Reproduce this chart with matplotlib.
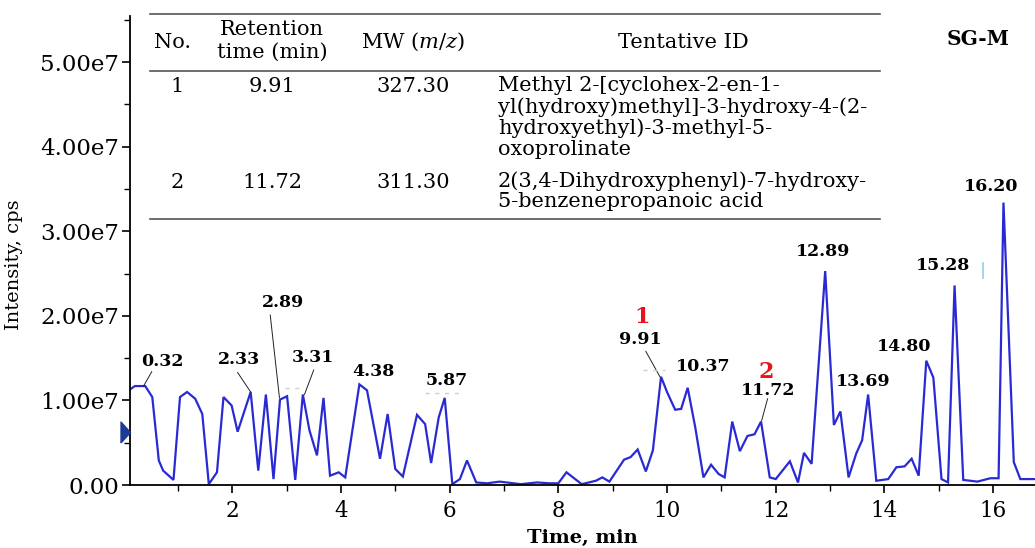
import matplotlib
matplotlib.use('Agg')
import matplotlib.pyplot as plt
from matplotlib.lines import Line2D
from matplotlib.ticker import MultipleLocator, FuncFormatter

# ---------------- data ----------------
time_min = [0.12, 0.21, 0.40, 0.53, 0.65, 0.73, 0.92, 1.04, 1.17, 1.32, 1.45, 1.57, 1.72,
            1.84, 1.99, 2.10, 2.34, 2.48, 2.62, 2.76, 2.88, 3.01, 3.16, 3.30, 3.42, 3.56,
            3.68, 3.80, 3.96, 4.08, 4.34, 4.48, 4.72, 4.86, 5.00, 5.14, 5.40, 5.55, 5.66,
            5.80, 5.91, 6.05, 6.19, 6.32, 6.49, 6.69, 6.92, 7.05, 7.31, 7.61, 7.84, 8.00,
            8.15, 8.43, 8.69, 8.81, 8.94, 9.21, 9.33, 9.46, 9.61, 9.74, 9.89, 10.00, 10.15,
            10.26, 10.38, 10.52, 10.67, 10.81, 10.95, 11.06, 11.20, 11.34, 11.48, 11.61,
            11.73, 11.89, 12.00, 12.26, 12.41, 12.52, 12.66, 12.91, 13.07, 13.19, 13.34,
            13.48, 13.59, 13.70, 13.85, 14.07, 14.22, 14.37, 14.50, 14.63, 14.77, 14.90,
            15.05, 15.17, 15.29, 15.45, 15.71, 15.95, 16.10, 16.19, 16.38, 16.50, 16.77]
intensity_e7 = [1.13, 1.17, 1.17, 1.04, 0.29, 0.17, 0.06, 1.04, 1.10, 1.02, 0.84, 0.01, 0.15,
                1.04, 0.94, 0.63, 1.10, 0.17, 1.07, 0.07, 1.01, 1.05, 0.06, 1.07, 0.65, 0.35,
                1.03, 0.11, 0.15, 0.09, 1.19, 1.12, 0.31, 0.84, 0.19, 0.10, 0.83, 0.72, 0.26,
                0.80, 1.03, 0.01, 0.07, 0.29, 0.03, 0.02, 0.04, 0.03, 0.01, 0.03, 0.02, 0.02,
                0.15, 0.01, 0.05, 0.09, 0.04, 0.30, 0.33, 0.42, 0.16, 0.41, 1.28, 1.10, 0.89,
                0.90, 1.15, 0.68, 0.09, 0.24, 0.13, 0.09, 0.75, 0.40, 0.58, 0.60,
                0.75, 0.09, 0.07, 0.28, 0.03, 0.38, 0.25, 2.53, 0.71, 0.87, 0.09,
                0.37, 0.53, 1.07, 0.05, 0.07, 0.21, 0.22, 0.31, 0.11, 1.47, 1.27,
                0.07, 0.03, 2.36, 0.06, 0.04, 0.08, 0.08, 3.34, 0.27, 0.07, 0.07]
intensity = [v * 1e7 for v in intensity_e7]

peak_labels = ['0.32', '2.33', '2.89', '3.31', '4.38', '5.87', '9.91', '10.37',
               '11.72', '12.89', '13.69', '14.80', '15.28', '16.20']
compound_labels = ['1', '2']

table_header = ['No.', 'Retention\ntime (min)', 'MW ($\\it{m/z}$)', 'Tentative ID']
table_no = ['1', '2']
table_rt = ['9.91', '11.72']
table_mw = ['327.30', '311.30']
table_id = ['Methyl 2-[cyclohex-2-en-1-\nyl(hydroxy)methyl]-3-hydroxy-4-(2-\nhydroxyethyl)-3-methyl-5-\noxoprolinate',
            '2(3,4-Dihydroxyphenyl)-7-hydroxy-\n5-benzenepropanoic acid']
sample_name = 'SG-M'

y_ticks_e7 = [0, 1, 2, 3, 4, 5]
x_ticks = [2, 4, 6, 8, 10, 12, 14, 16]

# ---------------- layout ----------------
W, H = 1035, 548
def fx(px):
    return px / W
def fy(py):
    return 1 - py / H

# label text positions (data coords: time, intensity in 1e7)
label_pos = {'0.32': (0.71, 1.46), '2.33': (2.13, 1.48), '2.89': (2.94, 2.16),
             '3.31': (3.48, 1.51), '4.38': (4.59, 1.34), '5.87': (5.95, 1.23),
             '9.91': (9.51, 1.72), '10.37': (10.67, 1.40), '11.72': (11.85, 1.12),
             '12.89': (12.87, 2.76), '13.69': (13.61, 1.22), '14.80': (14.37, 1.64),
             '15.28': (15.08, 2.60), '16.20': (15.97, 3.53)}
compound_pos = {'1': (9.54, 1.99), '2': (11.82, 1.34)}
leaders = {'0.32': ((0.52, 1.34), (0.37, 1.17)), '2.33': ((2.10, 1.33), (2.34, 1.10)),
           '2.89': ((2.70, 2.01), (2.87, 1.03)), '3.31': ((3.50, 1.36), (3.33, 1.07)),
           '9.91': ((9.61, 1.58), (9.87, 1.28)), '11.72': ((11.85, 1.02), (11.74, 0.76))}

SERIF = 'DejaVu Serif'
plt.rcParams['font.family'] = SERIF
plt.rcParams['mathtext.fontset'] = 'dejavuserif'

fig = plt.figure(figsize=(W / 100, H / 100), dpi=100)
fig.patch.set_facecolor('white')
ax = fig.add_axes([fx(130), fy(485), fx(1035) - fx(130), fy(15.7) - fy(485)])

line_color = '#2a2ad4'
ax.plot(time_min, intensity, color=line_color, lw=1.6, solid_joinstyle='miter')

ax.set_xlim(0.12, 16.77)
ax.set_ylim(0, 5.55e7)

for s in ['top', 'right']:
    ax.spines[s].set_visible(False)
for s in ['left', 'bottom']:
    ax.spines[s].set_linewidth(1.3)

ax.set_xticks(x_ticks)
ax.xaxis.set_minor_locator(MultipleLocator(1))
ax.set_yticks([v * 1e7 for v in y_ticks_e7])
ax.yaxis.set_minor_locator(MultipleLocator(0.5e7))
ax.yaxis.set_major_formatter(FuncFormatter(lambda v, p: '0.00' if v == 0 else f'{v / 1e7:.2f}e7'))
ax.tick_params(axis='both', which='major', length=6, width=1.2, direction='out')
ax.tick_params(axis='both', which='minor', length=4, width=1.0, direction='out')
ax.tick_params(axis='y', labelsize=16.5, pad=2)
ax.tick_params(axis='x', labelsize=15.5, pad=5)

ax.set_xlabel('Time, min', fontsize=14, fontweight='bold', labelpad=5)
ax.set_ylabel('Intensity, cps', fontsize=14)
ax.yaxis.set_label_coords(-0.118, 0.47)

# peak labels
for lab in peak_labels:
    tx, ty = label_pos[lab]
    ax.text(tx, ty * 1e7, lab, fontsize=12.5, fontweight='bold', ha='center', va='center')
for lab, ((x0, y0), (x1, y1)) in leaders.items():
    ax.plot([x0, x1], [y0 * 1e7, y1 * 1e7], color='#222222', lw=0.7)
for lab in compound_labels:
    tx, ty = compound_pos[lab]
    ax.text(tx, ty * 1e7, lab, fontsize=16, fontweight='bold', color='#e8141c', ha='center', va='center')

# faint grey dashes (artifacts near labels)
for (xa, xb, yv) in [(5.55, 6.19, 1.09), (2.97, 3.29, 1.15), (9.55, 9.97, 1.36)]:
    ax.plot([xa, xb], [yv * 1e7, yv * 1e7], color='#cfcfcf', lw=1.0, ls=(0, (3, 4)))
ax.plot([15.82, 15.82], [2.45e7, 2.62e7], color='#8ccfef', lw=1.2)

# triangle marker at left spine
ax.plot([0.12], [0.63e7], marker=[(-1, -1.1), (0, 0), (-1, 1.1), (-1, -1.1)],
        ms=15, color='#1c3a96', clip_on=False, zorder=5)

# ---------------- table ----------------
tcol = '#555555'
for py in [14, 71, 219]:
    fig.add_artist(Line2D([fx(150), fx(880)], [fy(py), fy(py)], color=tcol, lw=1.2))

hsize = 15
fig.text(fx(173), fy(42), table_header[0], fontsize=hsize, ha='center', va='center')
fig.text(fx(272), fy(41), table_header[1], fontsize=hsize, ha='center', va='center', linespacing=1.25)
fig.text(fx(413), fy(42), table_header[2], fontsize=hsize, ha='center', va='center')
fig.text(fx(683), fy(42), table_header[3], fontsize=hsize, ha='center', va='center')

row_y = [87, 182]
for i in range(2):
    fig.text(fx(177), fy(row_y[i]), table_no[i], fontsize=hsize, ha='center', va='center')
    fig.text(fx(272), fy(row_y[i]), table_rt[i], fontsize=hsize, ha='center', va='center')
    fig.text(fx(413), fy(row_y[i]), table_mw[i], fontsize=hsize, ha='center', va='center')
    fig.text(fx(498), fy(row_y[i] - 11), table_id[i], fontsize=hsize, ha='left', va='top',
             linespacing=1.12)

fig.text(fx(978), fy(39), sample_name, fontsize=14.5, fontweight='bold', ha='center', va='center')

fig.savefig('out.png', dpi=100, facecolor='white')
